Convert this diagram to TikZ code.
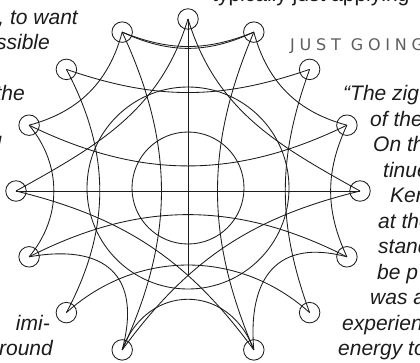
\documentclass[tikz,border=0pt]{standalone}
\usepackage{fontspec}
\setmainfont{Liberation Sans}
\newfontfamily\headfont[LetterSpace=30]{DejaVu Sans}
\usetikzlibrary{positioning, calc}
\definecolor{ink}{HTML}{1C1C1C}
\definecolor{headgray}{HTML}{5E5E5E}
\tikzset{
  ring/.style     = {circle, draw=ink, line width=0.85pt, minimum size=20.5pt,
                     inner sep=0pt},
  web/.style      = {draw=ink, line width=0.85pt},
  hoop/.style     = {draw=ink, line width=0.85pt},
  copy/.style     = {font=\fontsize{21}{25}\selectfont\itshape, text=ink,
                     inner sep=0pt},
  topline/.style  = {font=\fontsize{21}{25}\selectfont, text=ink, inner sep=0pt},
  headline/.style = {font=\headfont\fontsize{16}{17}\selectfont, text=headgray,
                     inner sep=0pt},
}

\begin{document}
\begin{tikzpicture}[x=1pt, y=-1pt]

  \path[use as bounding box, fill=white] (0,0) rectangle (420,362);

  \coordinate (ctr) at (188,191);
  \coordinate (hub) at (188,188);

  \foreach \n/\a in {A/90, B/67.5, C/45, D/22.5, E/0, F/-22.5, G/-45, H/-67.5,
                     I/-112.5, J/-135, K/-157.5, L/180, M/157.5, N/135, O/112.5}
    \node[ring] (\n) at ([shift={(\a:172pt)}]ctr) {};

  \draw[hoop] (hub) circle[radius=56pt];
  \draw[hoop] (hub) circle[radius=101pt];

  % chords across
  \draw[web] (O.center) to[bend right=22] (B.center);
  \draw[web] (O.center) to[bend right=25] (B.center);
  \draw[web] (N.center) to[bend right=19] (C.center);
  \draw[web] (M.center) to[bend right=26] (D.center);
  \draw[web] (L.center) -- (E.center);
  \draw[web] (K.center) to[bend left=27] (F.center);
  \draw[web] (J.center) to[bend left=42] (G.center);
  \draw[web] (I.center) to[out=70, in=110, looseness=1.4] (H.center);

  % chords down
  \coordinate (Afoot) at (188,276);
  \draw[web] (A.center) -- (Afoot);
  \draw[web] (O.center) to[bend left=25] (I.center);
  \draw[web] (N.center) to[bend left=28] (J.center);
  \draw[web] (M.center) to[bend left=40] (K.center);
  \draw[web] (B.center) to[bend right=23] (H.center);
  \draw[web] (C.center) to[bend right=20] (G.center);
  \draw[web] (D.center) to[bend right=25] (F.center);

  % star arcs
  \draw[web] (O.center) to[out=-105, in=15] (M.center);
  \draw[web] (B.center) to[out=-75, in=165] (D.center);
  \draw[web] (K.center) to[out=10, in=75, looseness=1.5] (I.center);
  \draw[web] (F.center) to[out=165, in=95, looseness=1.4] (H.center);
  \draw[web] (A.center) to[out=-107, in=29] (L.center);
  \draw[web] (A.center) to[out=-73, in=151] (E.center);
  \draw[web] (L.center) to[bend left=20] (H.center);
  \draw[web] (I.center) to[bend left=20] (E.center);

  % text around
  \node[topline, anchor=base west] (top) at (212,1.2) {typically just applying};
  \node[headline, anchor=base west] (head) at (290,50.5) {JUST GOING};

  \node[copy, anchor=base east] (l1) at (78,24) {, to want};
  \node[copy, anchor=base east] (l2) at (50,49.5) {ssible};
  \node[copy, anchor=base east] (l3) at (25,100.5) {the};
  \node[copy, anchor=base east] (l4) at (1.5,151.5) {l};
  \node[copy, anchor=base east] (l5) at (50,330) {imi-};
  \node[copy, anchor=base east] (l6) at (53,355.5) {round};

  \node[copy, anchor=base west] (r1) at (343,100.5) {“The zig};
  \node[copy, anchor=base west] (r2) at (370,126) {of the};
  \node[copy, anchor=base west] (r3) at (373,151.5) {On th};
  \node[copy, anchor=base west] (r4) at (383,177) {tinue};
  \node[copy, anchor=base west] (r5) at (390,202.5) {Ker};
  \node[copy, anchor=base west] (r6) at (378,228) {at the};
  \node[copy, anchor=base west] (r7) at (378,253.5) {stand};
  \node[copy, anchor=base west] (r8) at (377,279) {be p};
  \node[copy, anchor=base west] (r9) at (370,304.5) {was a};
  \node[copy, anchor=base west] (r10) at (342,330) {experien};
  \node[copy, anchor=base west] (r11) at (338,355.5) {energy to};

\end{tikzpicture}
\end{document}
